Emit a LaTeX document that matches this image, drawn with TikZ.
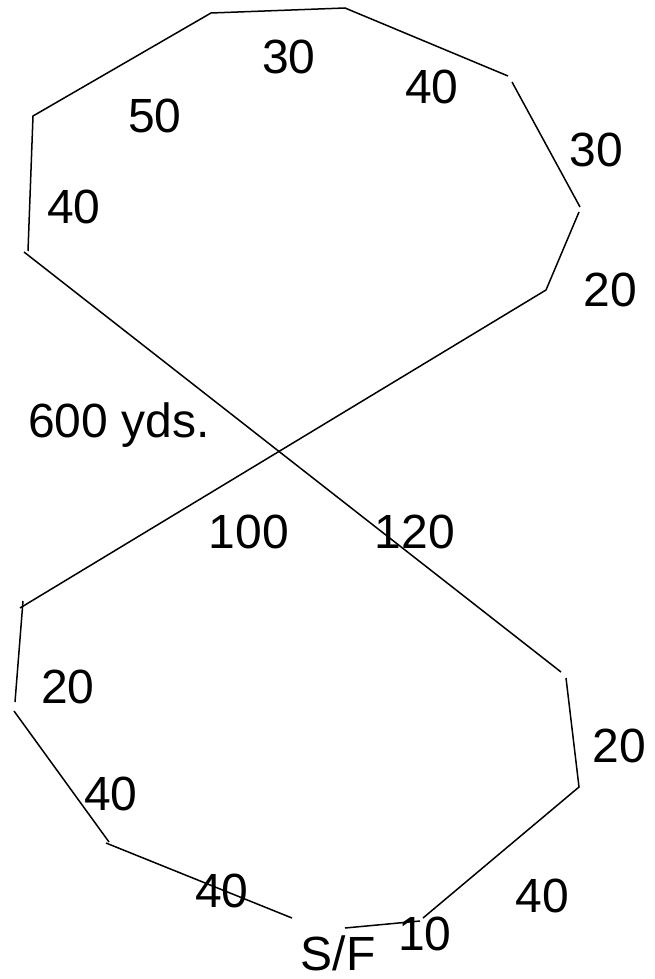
\documentclass[tikz,border=0pt]{standalone}
\usepackage{fontspec}
\setmainfont{Liberation Sans}
\usepackage{tikz}
\tikzset{lap/.style={black,line width=1.5pt},
  dist/.style={anchor=base,inner sep=0,font=\fontsize{48}{58}\selectfont}}

\begin{document}
\begin{tikzpicture}[x=10pt,y=-10pt]
\useasboundingbox (0,0) rectangle (65.5,97.9);
\coordinate (w1) at (2.8,25.1);
\coordinate (w2) at (3.3,11.6);
\coordinate (n1) at (21.1,1.3);
\coordinate (n2) at (34.5,0.8);
\coordinate (e1) at (50.8,7.6);
\coordinate (e1b) at (51.2,8.2);
\coordinate (e2) at (58.0,20.7);
\coordinate (e2b) at (57.9,21.2);
\coordinate (e3) at (54.6,29.0);
\coordinate (x1) at (2.0,60.8);
\coordinate (sw1) at (2.3,60.1);
\coordinate (sw2) at (1.5,70.2);
\coordinate (sw2b) at (1.4,71.1);
\coordinate (sw3) at (10.9,84.2);
\coordinate (sw3b) at (10.6,84.3);
\coordinate (sf1) at (29.2,91.8);
\coordinate (sf2) at (34.5,92.8);
\coordinate (s1) at (42.0,92.1);
\coordinate (s1b) at (42.3,91.8);
\coordinate (se1) at (57.9,78.7);
\coordinate (se2) at (56.6,67.8);
\coordinate (x2) at (56.1,67.2);
\coordinate (x0) at (2.4,25.2);

\draw[lap] (w1)--(w2)--(n1)--(n2)--(e1);
\draw[lap] (e1b)--(e2);
\draw[lap] (e2b)--(e3)--(x1);
\draw[lap] (sw1)--(sw2);
\draw[lap] (sw2b)--(sw3);
\draw[lap] (sw3b)--(sf1);
\draw[lap] (sf2)--(s1);
\draw[lap] (s1b)--(se1)--(se2);
\draw[lap] (x0)--(x2);

\node[dist] (l30a) at (28.9,7.4) {30};
\node[dist] (l50) at (15.5,13.2) {50};
\node[dist] (l40a) at (7.4,22.3) {40};
\node[dist] (l40b) at (43.2,10.3) {40};
\node[dist] (l30b) at (59.6,16.6) {30};
\node[dist] (l20a) at (61.0,30.6) {20};
\node[dist,anchor=base west] (total) at (2.8,43.7) {600 yds.};
\node[dist] (l100) at (24.9,54.8) {100};
\node[dist] (l120) at (41.5,54.8) {120};
\node[dist] (l20b) at (6.8,70.3) {20};
\node[dist] (l40c) at (11.1,81.0) {40};
\node[dist] (l40d) at (22.2,90.7) {40};
\node[dist] (l20c) at (61.9,76.2) {20};
\node[dist] (l40e) at (54.2,91.2) {40};
\node[dist] (l10) at (42.5,95.0) {10};
\node[dist] (sf) at (33.8,97.0) {S/F};
\end{tikzpicture}
\end{document}
